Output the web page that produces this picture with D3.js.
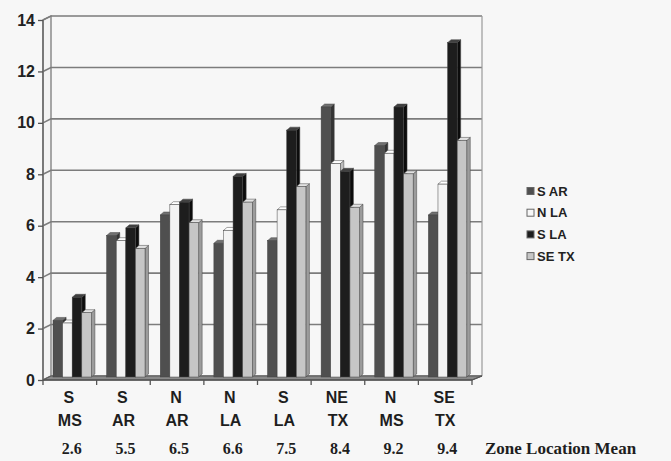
<!DOCTYPE html>
<html>
<head>
<meta charset="utf-8">
<script src="https://cdn.jsdelivr.net/npm/d3@7"></script>
<style>
  html, body { margin: 0; padding: 0; background: #f7f7f7; }
  svg { display: block; }
</style>
</head>
<body>
<svg id="chart" width="671" height="461"></svg>
<script>
// Zones along the x axis (two-line labels) and their location means
const zoneTop = ["S", "S", "N", "N", "S", "NE", "N", "SE"];
const zoneBottom = ["MS", "AR", "AR", "LA", "LA", "TX", "MS", "TX"];
const zoneMeans = ["2.6", "5.5", "6.5", "6.6", "7.5", "8.4", "9.2", "9.4"];
const zones = zoneTop.map((t, i) => t + " " + zoneBottom[i]);

// Series shown in each zone
const seriesNames = ["S AR", "N LA", "S LA", "SE TX"];
const sAR  = [2.2, 5.5, 6.3, 5.2, 5.3, 10.5, 9.0, 6.3];
const nLA  = [2.1, 5.3, 6.7, 5.7, 6.5, 8.3, 8.7, 7.5];
const sLA  = [3.1, 5.8, 6.8, 7.8, 9.6, 8.0, 10.5, 13.0];
const seTX = [2.5, 5.0, 6.0, 6.8, 7.4, 6.6, 7.9, 9.2];
const seriesValues = [sAR, nLA, sLA, seTX];

const yTicks = [0, 2, 4, 6, 8, 10, 12, 14];

// shading for front / top / side faces of each series
const faces = [
  { front: "#4f4f4f", top: "#717171", side: "#343434", legend: "#4f4f4f" },
  { front: "#f3f3f3", top: "#ffffff", side: "#bdbdbd", legend: "#f7f7f7" },
  { front: "#1d1d1d", top: "#404040", side: "#0c0c0c", legend: "#1d1d1d" },
  { front: "#c6c6c6", top: "#e2e2e2", side: "#9c9c9c", legend: "#c6c6c6" }
];

const svg = d3.select("#chart");

// front plane of the plot box
const x0 = 43, x1 = 472;
const yScale = d3.scaleLinear().domain([0, 14]).range([380, 20]);
// offset of the back wall relative to the front plane
const wallDx = 8, wallDy = -4;
// offset of the bar front faces and bar thickness
const barDx = 4, barDy = -3;
const depthDx = 3.5, depthDy = -3;

const xBand = d3.scaleBand().domain(zones).range([x0, x1]).paddingInner(0).paddingOuter(0);
const sBand = d3.scaleBand().domain(seriesNames).range([6, 44.4]).padding(0);

const g = svg.append("g");

// back wall + left wall outline
const backLeft = x0 + wallDx, backRight = x1 + wallDx + 2;
const gridColor = "#7c7c7c";

// left wall
g.append("path")
  .attr("d", `M${x0},${yScale(0)} L${x0},${yScale(14)} L${backLeft},${yScale(14) + wallDy} L${backLeft},${yScale(0) + wallDy} Z`)
  .attr("fill", "#f3f3f3").attr("stroke", gridColor).attr("stroke-width", 1.3);

// gridlines on the back and left walls
yTicks.forEach(v => {
  const yf = yScale(v), yb = yScale(v) + wallDy;
  g.append("path")
    .attr("d", `M${x0},${yf} L${backLeft},${yb} L${backRight},${yb}`)
    .attr("fill", "none").attr("stroke", gridColor).attr("stroke-width", 1.6);
});

// right edge of back wall
g.append("line")
  .attr("x1", backRight).attr("x2", backRight)
  .attr("y1", yScale(14) + wallDy).attr("y2", yScale(0) + wallDy)
  .attr("stroke", "#999").attr("stroke-width", 1.2);

// floor
g.append("path")
  .attr("d", `M${x0},${yScale(0)} L${x1},${yScale(0)} L${backRight},${yScale(0) + wallDy} L${backLeft},${yScale(0) + wallDy} Z`)
  .attr("fill", "#8a8a8a").attr("stroke", "#555").attr("stroke-width", 1);

// bars
zones.forEach((z, ci) => {
  seriesNames.forEach((s, si) => {
    const v = seriesValues[si][ci];
    const w = sBand.bandwidth();
    const bx = xBand(z) + sBand(s) + barDx;
    const yb = yScale(0) + barDy;
    const yt = yScale(v) + barDy;
    const f = faces[si];
    const bar = g.append("g");
    bar.append("path")
      .attr("d", `M${bx + w},${yb} L${bx + w + depthDx},${yb + depthDy} L${bx + w + depthDx},${yt + depthDy} L${bx + w},${yt} Z`)
      .attr("fill", f.side).attr("stroke", "#444").attr("stroke-width", 0.5);
    bar.append("path")
      .attr("d", `M${bx},${yt} L${bx + w},${yt} L${bx + w + depthDx},${yt + depthDy} L${bx + depthDx},${yt + depthDy} Z`)
      .attr("fill", f.top).attr("stroke", "#444").attr("stroke-width", 0.5);
    bar.append("rect")
      .attr("x", bx).attr("y", yt).attr("width", w).attr("height", yb - yt)
      .attr("fill", f.front).attr("stroke", "#444").attr("stroke-width", 0.5);
  });
});

// front axis lines
g.append("line")
  .attr("x1", x0).attr("x2", x0).attr("y1", yScale(0)).attr("y2", yScale(14))
  .attr("stroke", "#666").attr("stroke-width", 1.4);
g.append("line")
  .attr("x1", x0).attr("x2", x1).attr("y1", yScale(0)).attr("y2", yScale(0))
  .attr("stroke", "#555").attr("stroke-width", 1.4);
g.append("line")
  .attr("x1", x1).attr("x2", backRight).attr("y1", yScale(0)).attr("y2", yScale(0) + wallDy)
  .attr("stroke", "#555").attr("stroke-width", 1.2);

// y axis ticks and labels
const yAxis = d3.axisLeft(yScale).tickValues(yTicks).tickSize(5).tickPadding(3).tickFormat(d3.format("d"));
const ya = svg.append("g").attr("transform", `translate(${x0},0)`).call(yAxis);
ya.select(".domain").remove();
ya.selectAll(".tick line").attr("stroke", "#555").attr("stroke-width", 1.3);
ya.selectAll(".tick text")
  .attr("font-family", "Arial, 'Liberation Sans', sans-serif")
  .attr("font-weight", "bold").attr("font-size", 16).attr("fill", "#222");

// category ticks along the bottom
const catEdges = zones.map(z => xBand(z)).concat([x1]);
svg.append("g").selectAll("line").data(catEdges).join("line")
  .attr("x1", d => d).attr("x2", d => d)
  .attr("y1", yScale(0)).attr("y2", yScale(0) + 5)
  .attr("stroke", "#555").attr("stroke-width", 1.3);

// category labels
const labels = svg.append("g")
  .attr("font-family", "Arial, 'Liberation Sans', sans-serif")
  .attr("font-weight", "bold").attr("font-size", 16).attr("fill", "#1e1e1e")
  .attr("text-anchor", "middle");
zones.forEach((z, i) => {
  const cx = xBand(z) + xBand.bandwidth() / 2;
  labels.append("text").attr("x", cx - 1).attr("y", 403).text(zoneTop[i]);
  labels.append("text").attr("x", cx).attr("y", 426).text(zoneBottom[i]);
});

// zone location means
const means = svg.append("g")
  .attr("font-family", "'Times New Roman', 'Liberation Serif', serif")
  .attr("font-weight", "bold").attr("font-size", 16).attr("fill", "#1e1e1e")
  .attr("text-anchor", "middle");
zones.forEach((z, i) => {
  const cx = xBand(z) + xBand.bandwidth() / 2;
  means.append("text").attr("x", cx + 2).attr("y", 454).text(zoneMeans[i]);
});
svg.append("text")
  .attr("x", 485).attr("y", 454)
  .attr("font-family", "'Times New Roman', 'Liberation Serif', serif")
  .attr("font-weight", "bold").attr("font-size", 17).attr("fill", "#1e1e1e")
  .text("Zone Location Mean");

// legend
const legend = svg.append("g").attr("transform", "translate(527,191)");
seriesNames.forEach((s, i) => {
  const row = legend.append("g").attr("transform", `translate(0,${i * 21.7})`);
  row.append("rect")
    .attr("x", 0).attr("y", -3.5).attr("width", 7).attr("height", 7)
    .attr("fill", faces[i].legend).attr("stroke", "#666").attr("stroke-width", 1);
  row.append("text")
    .attr("x", 10).attr("y", 0).attr("dy", "0.36em")
    .attr("font-family", "Arial, 'Liberation Sans', sans-serif")
    .attr("font-weight", "bold").attr("font-size", 13).attr("fill", "#222")
    .text(s);
});
</script>
</body>
</html>
